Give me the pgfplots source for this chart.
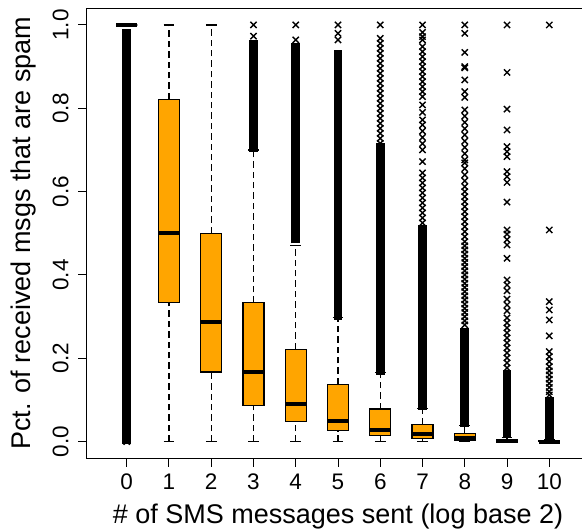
\documentclass[border=0pt]{standalone}
\usepackage{pgfplots}
\pgfplotsset{compat=1.18}
\usepgfplotslibrary{statistics}
\usepackage{fontspec}
\setmainfont{Liberation Sans}
\definecolor{boxorange}{RGB}{255,165,0}
\pgfplotsset{
  rbox/.style={
    boxplot/draw direction=y,
    boxplot/box extend=0.5,
    boxplot/every box/.style={fill=boxorange, draw=black, line width=0.6pt},
    boxplot/every median/.style={draw=black, line width=2pt},
    boxplot/draw/lower whisker/.code={%
      \draw[black, line width=0.55pt, dash pattern=on 3.2pt off 2pt]
        (boxplot box cs:\pgfplotsboxplotvalue{lower whisker},0.5) --
        (boxplot box cs:\pgfplotsboxplotvalue{lower quartile},0.5);
      \draw[black, line width=0.6pt]
        (boxplot box cs:\pgfplotsboxplotvalue{lower whisker},0.25) --
        (boxplot box cs:\pgfplotsboxplotvalue{lower whisker},0.75);
    },
    boxplot/draw/upper whisker/.code={%
      \draw[black, line width=0.55pt, dash pattern=on 3.2pt off 2pt]
        (boxplot box cs:\pgfplotsboxplotvalue{upper quartile},0.5) --
        (boxplot box cs:\pgfplotsboxplotvalue{upper whisker},0.5);
      \draw[black, line width=0.6pt]
        (boxplot box cs:\pgfplotsboxplotvalue{upper whisker},0.25) --
        (boxplot box cs:\pgfplotsboxplotvalue{upper whisker},0.75);
    },
  },
  outl/.style={only marks, mark=x, mark size=2.2pt, black, mark options={line width=0.7pt}},
}
\begin{document}
\begin{tikzpicture}
\begin{axis}[
  name=ax,
  scale only axis,
  width=251pt, height=225pt,
  xmin=-0.94, xmax=10.94, ymin=-0.04, ymax=1.04,
  axis line style={black, line width=0.5pt},
  tick pos=left, tick align=outside,
  major tick length=4.25pt,
  tick style={black, line width=0.5pt},
  xtick={0,1,2,3,4,5,6,7,8,9,10},
  xticklabels={0,1,2,3,4,5,6,7,8,9,10},
  ytick={0,0.2,0.4,0.6,0.8,1.0},
  yticklabels={0.0,0.2,0.4,0.6,0.8,1.0},
  tick label style={font=\fontsize{11.25}{13}\selectfont},
  xticklabel style={anchor=base, yshift=-11.5pt},
  yticklabel style={xshift=-5pt, rotate=90, anchor=base},
  every axis x label/.style={at={(axis description cs:0.5,0)}, anchor=base, yshift=-32.5pt, font=\fontsize{13.5}{16}\selectfont},
  every axis y label/.style={at={(axis description cs:0,0.5)}, xshift=-28pt, rotate=90, anchor=base, font=\fontsize{13.5}{16}\selectfont},
  xlabel={\# of SMS messages sent (log base 2)},
  ylabel={Pct. of received msgs that are spam},
]
% dense outlier bands (solid runs of overlapping x marks)
\addplot[black, line width=4.4pt, unbounded coords=jump] coordinates {
  (0,-0.006) (0,0.99) (0,nan)
  (3,0.696) (3,0.965) (3,nan)
  (4,0.476) (4,0.956) (4,nan)
  (5,0.292) (5,0.94) (5,nan)
  (6,0.160) (6,0.716) (6,nan)
  (7,0.076) (7,0.52) (7,nan)
  (8,0.036) (8,0.272) (8,nan)
  (9,0.008) (9,0.172) (9,nan)
  (10,0.002) (10,0.108)
};
% box plots
\addplot[rbox, boxplot prepared={draw position=0, lower whisker=1, lower quartile=1, median=1, upper quartile=1, upper whisker=1}] coordinates {};
\addplot[rbox, boxplot prepared={draw position=1, lower whisker=0, lower quartile=0.333, median=0.5, upper quartile=0.822, upper whisker=1}] coordinates {};
\addplot[rbox, boxplot prepared={draw position=2, lower whisker=0, lower quartile=0.167, median=0.286, upper quartile=0.5, upper whisker=1}] coordinates {};
\addplot[rbox, boxplot prepared={draw position=3, lower whisker=0, lower quartile=0.086, median=0.167, upper quartile=0.333, upper whisker=0.70}] coordinates {};
\addplot[rbox, boxplot prepared={draw position=4, lower whisker=0, lower quartile=0.048, median=0.09, upper quartile=0.222, upper whisker=0.47}] coordinates {};
\addplot[rbox, boxplot prepared={draw position=5, lower whisker=0, lower quartile=0.026, median=0.05, upper quartile=0.138, upper whisker=0.297}] coordinates {};
\addplot[rbox, boxplot prepared={draw position=6, lower whisker=0, lower quartile=0.0144, median=0.028, upper quartile=0.0785, upper whisker=0.165}] coordinates {};
\addplot[rbox, boxplot prepared={draw position=7, lower whisker=0, lower quartile=0.008, median=0.018, upper quartile=0.042, upper whisker=0.08}] coordinates {};
\addplot[rbox, boxplot prepared={draw position=8, lower whisker=0, lower quartile=0.004, median=0.008, upper quartile=0.020, upper whisker=0.038}] coordinates {};
\addplot[rbox, boxplot prepared={draw position=9, lower whisker=0, lower quartile=0, median=0.002, upper quartile=0.005, upper whisker=0.01}] coordinates {};
\addplot[rbox, boxplot prepared={draw position=10, lower whisker=0, lower quartile=0, median=0, upper quartile=0.003, upper whisker=0.006}] coordinates {};
% individual outliers
\addplot[outl] coordinates {
  (0,0.0)
  (3,1.0) (3,0.973)
  (4,1.0) (4,0.964)
  (5,1.0) (5,0.98) (5,0.964)
  (6,1.0) (6,0.968) (6,0.956) (6,0.944) (6,0.932) (6,0.920) (6,0.908) (6,0.896) (6,0.884)
  (6,0.872) (6,0.860) (6,0.848) (6,0.836) (6,0.824) (6,0.812) (6,0.800) (6,0.788) (6,0.776)
  (6,0.764) (6,0.752) (6,0.740) (6,0.728) (6,0.716)
  (7,1.0) (7,0.982) (7,0.972) (7,0.964) (7,0.948) (7,0.936) (7,0.924) (7,0.912) (7,0.900)
  (7,0.888) (7,0.876) (7,0.864) (7,0.852) (7,0.840) (7,0.828) (7,0.808) (7,0.790) (7,0.772)
  (7,0.760) (7,0.745) (7,0.730) (7,0.715) (7,0.700) (7,0.672) (7,0.645) (7,0.633) (7,0.621)
  (7,0.609) (7,0.597) (7,0.585) (7,0.573) (7,0.561) (7,0.549) (7,0.537) (7,0.525)
  (8,1.0) (8,0.98) (8,0.934) (8,0.90) (8,0.897) (8,0.868) (8,0.84) (8,0.826) (8,0.796)
  (8,0.781) (8,0.766) (8,0.751) (8,0.736) (8,0.721) (8,0.706) (8,0.691) (8,0.676) (8,0.669)
  (8,0.655) (8,0.640) (8,0.626) (8,0.612) (8,0.600) (8,0.588) (8,0.576) (8,0.564) (8,0.552)
  (8,0.540) (8,0.528) (8,0.516) (8,0.504) (8,0.492) (8,0.480) (8,0.470) (8,0.460) (8,0.450)
  (8,0.440) (8,0.430) (8,0.420) (8,0.410) (8,0.400) (8,0.390) (8,0.380) (8,0.370) (8,0.360)
  (8,0.350) (8,0.340) (8,0.330) (8,0.320) (8,0.310) (8,0.300) (8,0.290) (8,0.280)
  (9,1.0) (9,0.886) (9,0.798) (9,0.748) (9,0.708) (9,0.696) (9,0.684) (9,0.648) (9,0.636)
  (9,0.622) (9,0.575) (9,0.508) (9,0.498) (9,0.485) (9,0.472) (9,0.440) (9,0.388) (9,0.376)
  (9,0.362) (9,0.342) (9,0.328) (9,0.314) (9,0.297) (9,0.285) (9,0.273) (9,0.261) (9,0.249)
  (9,0.237) (9,0.225) (9,0.213) (9,0.201) (9,0.189) (9,0.177)
  (10,1.0) (10,0.508) (10,0.336) (10,0.316) (10,0.292) (10,0.254) (10,0.216) (10,0.204)
  (10,0.192) (10,0.180) (10,0.170) (10,0.160) (10,0.150) (10,0.140) (10,0.130) (10,0.120) (10,0.112)
};
\end{axis}
\pgfresetboundingbox
\path[use as bounding box] ([xshift=-43.5pt,yshift=-35.3pt]ax.south west) rectangle ([xshift=247.5pt,yshift=4.15pt]ax.north west);
\end{tikzpicture}
\end{document}
